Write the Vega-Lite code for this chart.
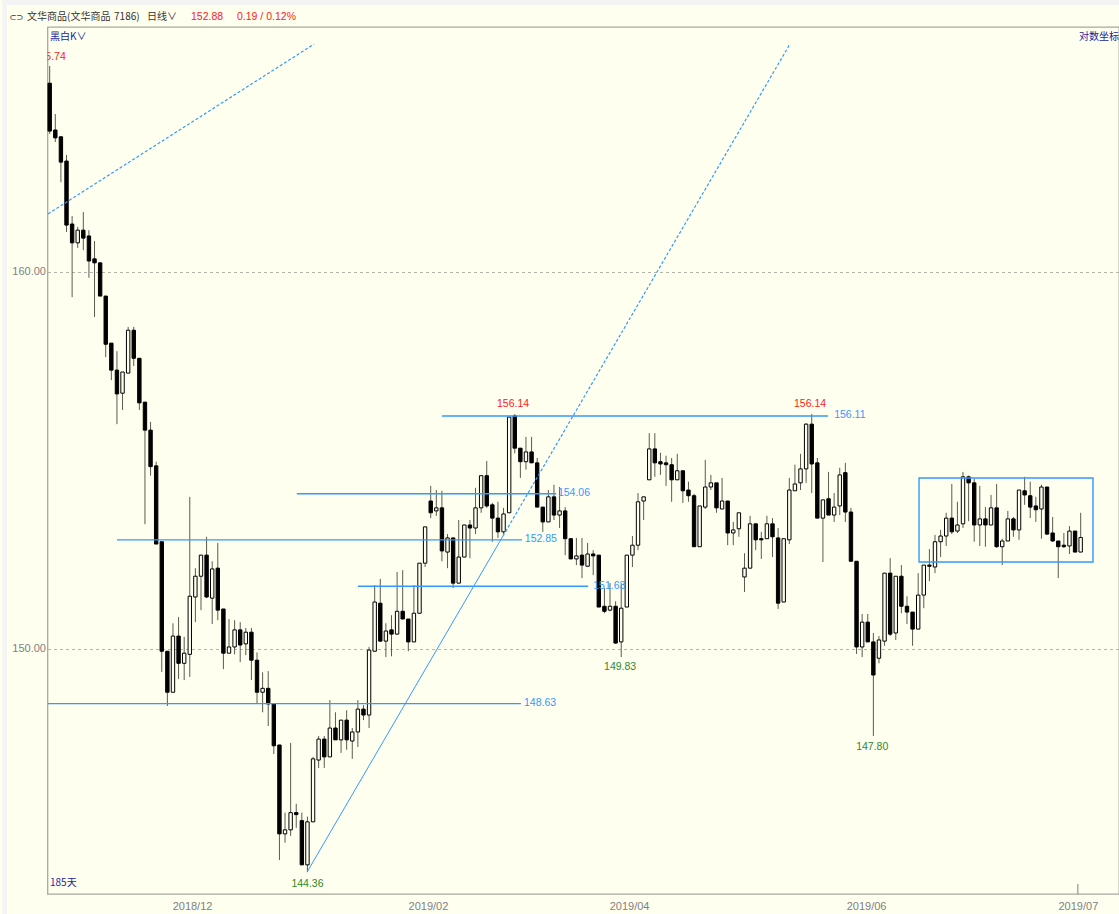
{"$schema":"https://vega.github.io/schema/vega-lite/v6.json","width":1071.5,"height":867,"padding":{"left":47.5,"top":27,"right":0,"bottom":20},"autosize":{"type":"none"},"background":"#fffff0",
"config":{"view":{"stroke":"#a8a89c","strokeWidth":1.3},"font":"Liberation Sans","scale":{"continuousPadding":0},"axis":{"ticks":false,"domain":false,"labelColor":"#808080","labelFontSize":11,"labelFont":"Liberation Sans","title":null,"labelOverlap":false,"labelFlush":false},"axisX":{"grid":false,"labelPadding":6},"axisY":{"grid":true,"gridDash":[3,3],"gridColor":"#b4b4a8","gridWidth":1,"labelPadding":2}},
"datasets":{"candles":[
{"i":0,"o":165.26,"h":165.75,"l":163.83,"c":163.91},{"i":1,"o":163.94,"h":164.39,"l":163.6,"c":163.72},{"i":2,"o":163.75,"h":163.75,"l":162.48,"c":163.04},{"i":3,"o":163.07,"h":163.24,"l":161.1,"c":161.29},{"i":4,"o":161.32,"h":161.54,"l":159.31,"c":160.8},{"i":5,"o":160.8,"h":161.24,"l":160.66,"c":161.15},{"i":6,"o":161.15,"h":161.65,"l":160.6,"c":160.93},{"i":7,"o":160.99,"h":161.15,"l":159.84,"c":160.3},{"i":8,"o":160.36,"h":160.85,"l":158.77,"c":160.25},{"i":9,"o":160.25,"h":160.25,"l":159.34,"c":159.34},
{"i":10,"o":159.34,"h":159.34,"l":157.68,"c":158.03},{"i":11,"o":158.06,"h":158.06,"l":157.06,"c":157.33},{"i":12,"o":157.33,"h":157.84,"l":155.88,"c":156.69},{"i":13,"o":156.71,"h":157.28,"l":156.26,"c":157.28},{"i":14,"o":157.25,"h":158.5,"l":157.25,"c":158.41},{"i":15,"o":158.41,"h":158.5,"l":157.44,"c":157.65},{"i":16,"o":157.65,"h":157.65,"l":156.26,"c":156.45},{"i":17,"o":156.47,"h":156.47,"l":153.23,"c":155.72},{"i":18,"o":155.72,"h":155.94,"l":154.51,"c":154.75},{"i":19,"o":154.77,"h":154.88,"l":152.71,"c":152.71},
{"i":20,"o":152.77,"h":152.77,"l":149.4,"c":149.93},{"i":21,"o":149.93,"h":149.93,"l":148.53,"c":148.88},{"i":22,"o":148.88,"h":150.65,"l":148.88,"c":150.32},{"i":23,"o":150.32,"h":150.81,"l":149.22,"c":149.62},{"i":24,"o":149.62,"h":150.3,"l":149.19,"c":149.88},{"i":25,"o":149.85,"h":153.95,"l":149.27,"c":151.35},{"i":26,"o":151.33,"h":152.08,"l":150.68,"c":151.87},{"i":27,"o":151.87,"h":152.42,"l":150.99,"c":152.42},{"i":28,"o":152.42,"h":152.9,"l":151.3,"c":151.33},{"i":29,"o":151.3,"h":152.26,"l":150.63,"c":152.06},
{"i":30,"o":152.08,"h":152.74,"l":150.73,"c":150.99},{"i":31,"o":151.02,"h":151.02,"l":149.47,"c":149.88},{"i":32,"o":149.88,"h":150.76,"l":149.88,"c":150.04},{"i":33,"o":150.04,"h":150.73,"l":149.85,"c":150.48},{"i":34,"o":150.48,"h":150.68,"l":149.65,"c":150.09},{"i":35,"o":150.12,"h":150.53,"l":149.83,"c":150.42},{"i":36,"o":150.42,"h":150.53,"l":149.19,"c":149.7},{"i":37,"o":149.7,"h":149.9,"l":148.6,"c":148.88},{"i":38,"o":148.88,"h":149.39,"l":148.37,"c":148.98},{"i":39,"o":148.98,"h":149.42,"l":148.02,"c":148.58},
{"i":40,"o":148.58,"h":148.58,"l":147.31,"c":147.52},{"i":41,"o":147.54,"h":147.54,"l":144.66,"c":145.31},{"i":42,"o":145.31,"h":145.84,"l":145.09,"c":145.41},{"i":43,"o":145.41,"h":147.59,"l":145.26,"c":145.84},{"i":44,"o":145.84,"h":146.06,"l":145.46,"c":145.79},{"i":45,"o":145.64,"h":145.84,"l":144.54,"c":144.54},{"i":46,"o":144.54,"h":145.74,"l":144.36,"c":145.61},{"i":47,"o":145.61,"h":147.24,"l":145.61,"c":147.19},{"i":48,"o":147.16,"h":147.77,"l":146.96,"c":147.69},{"i":49,"o":147.69,"h":147.77,"l":146.96,"c":147.24},
{"i":50,"o":147.24,"h":148.68,"l":147.24,"c":147.97},{"i":51,"o":147.97,"h":148.37,"l":147.67,"c":147.67},{"i":52,"o":147.67,"h":148.17,"l":147.34,"c":148.17},{"i":53,"o":148.17,"h":148.42,"l":147.42,"c":147.67},{"i":54,"o":147.64,"h":147.97,"l":147.19,"c":147.87},{"i":55,"o":147.87,"h":148.68,"l":147.49,"c":148.45},{"i":56,"o":148.45,"h":148.55,"l":148.17,"c":148.3},{"i":57,"o":148.3,"h":150.04,"l":147.97,"c":149.96},{"i":58,"o":149.93,"h":151.64,"l":149.93,"c":151.2},{"i":59,"o":151.17,"h":151.8,"l":150.17,"c":150.19},
{"i":60,"o":150.19,"h":150.65,"l":149.78,"c":150.45},{"i":61,"o":150.48,"h":150.86,"l":149.8,"c":150.37},{"i":62,"o":150.37,"h":151.98,"l":150.37,"c":150.96},{"i":63,"o":150.96,"h":152.03,"l":150.76,"c":150.76},{"i":64,"o":150.76,"h":150.76,"l":149.93,"c":150.17},{"i":65,"o":150.17,"h":151.64,"l":150.17,"c":150.91},{"i":66,"o":150.91,"h":152.21,"l":150.91,"c":152.21},{"i":67,"o":152.21,"h":153.16,"l":152.11,"c":153.16},{"i":68,"o":153.84,"h":154.24,"l":153.39,"c":153.53},{"i":69,"o":153.58,"h":154.13,"l":153.45,"c":153.66},
{"i":70,"o":153.66,"h":154.11,"l":152.26,"c":152.53},{"i":71,"o":152.5,"h":152.97,"l":152.08,"c":152.87},{"i":72,"o":152.87,"h":152.87,"l":151.56,"c":151.69},{"i":73,"o":151.69,"h":153.34,"l":151.69,"c":152.37},{"i":74,"o":152.37,"h":153.21,"l":152.37,"c":153.21},{"i":75,"o":153.21,"h":153.34,"l":152.34,"c":153.13},{"i":76,"o":153.13,"h":154.19,"l":152.97,"c":153.66},{"i":77,"o":153.66,"h":154.51,"l":153.53,"c":154.51},{"i":78,"o":154.51,"h":154.9,"l":153.66,"c":153.71},{"i":79,"o":153.74,"h":153.79,"l":152.77,"c":153.39},
{"i":80,"o":153.39,"h":153.82,"l":152.87,"c":153.03},{"i":81,"o":153.03,"h":153.66,"l":152.97,"c":153.5},{"i":82,"o":153.53,"h":156.07,"l":153.53,"c":156.07},{"i":83,"o":156.1,"h":156.15,"l":155.1,"c":155.24},{"i":84,"o":155.24,"h":155.24,"l":154.45,"c":154.88},{"i":85,"o":154.88,"h":155.54,"l":154.67,"c":155.14},{"i":86,"o":155.14,"h":155.54,"l":154.85,"c":154.85},{"i":87,"o":154.85,"h":154.98,"l":153.68,"c":153.68},{"i":88,"o":153.68,"h":153.68,"l":153.03,"c":153.29},{"i":89,"o":153.29,"h":154.13,"l":153.29,"c":153.95},
{"i":90,"o":153.95,"h":154.27,"l":153.34,"c":153.47},{"i":91,"o":153.47,"h":154.21,"l":153.13,"c":153.58},{"i":92,"o":153.58,"h":153.68,"l":152.42,"c":152.85},{"i":93,"o":152.85,"h":152.85,"l":152.32,"c":152.32},{"i":94,"o":152.32,"h":152.87,"l":152.16,"c":152.4},{"i":95,"o":152.42,"h":152.87,"l":151.82,"c":152.16},{"i":96,"o":152.13,"h":152.74,"l":152.13,"c":152.45},{"i":97,"o":152.45,"h":152.55,"l":151.9,"c":152.4},{"i":98,"o":152.42,"h":152.42,"l":151.07,"c":151.07},{"i":99,"o":151.09,"h":151.56,"l":150.91,"c":150.96},
{"i":100,"o":150.99,"h":151.69,"l":150.96,"c":151.09},{"i":101,"o":151.09,"h":151.22,"l":150.12,"c":150.14},{"i":102,"o":150.17,"h":151.69,"l":149.78,"c":151.04},{"i":103,"o":151.07,"h":152.42,"l":151.07,"c":152.42},{"i":104,"o":152.42,"h":152.92,"l":152.11,"c":152.68},{"i":105,"o":152.68,"h":154.05,"l":152.55,"c":153.82},{"i":106,"o":153.84,"h":153.95,"l":153.34,"c":153.95},{"i":107,"o":154.4,"h":155.64,"l":154.4,"c":155.22},{"i":108,"o":155.22,"h":155.64,"l":154.48,"c":154.85},{"i":109,"o":154.88,"h":155.12,"l":154.53,"c":154.82},
{"i":110,"o":154.85,"h":155.04,"l":154.24,"c":154.8},{"i":111,"o":154.8,"h":154.98,"l":153.82,"c":154.4},{"i":112,"o":154.4,"h":155.09,"l":154.4,"c":154.64},{"i":113,"o":154.64,"h":154.64,"l":153.79,"c":154.11},{"i":114,"o":154.13,"h":154.35,"l":153.82,"c":153.98},{"i":115,"o":153.98,"h":154.03,"l":152.64,"c":152.64},{"i":116,"o":152.64,"h":153.71,"l":152.64,"c":153.71},{"i":117,"o":153.68,"h":154.93,"l":153.63,"c":154.21},{"i":118,"o":154.21,"h":154.53,"l":154.13,"c":154.32},{"i":119,"o":154.32,"h":154.32,"l":153.53,"c":153.66},
{"i":120,"o":153.63,"h":154.45,"l":153.63,"c":153.84},{"i":121,"o":153.84,"h":153.84,"l":152.68,"c":153},{"i":122,"o":153,"h":153.29,"l":152.68,"c":153.08},{"i":123,"o":153.11,"h":153.53,"l":152.9,"c":153.53},{"i":124,"o":151.85,"h":152.47,"l":151.46,"c":152.08},{"i":125,"o":152.08,"h":153.45,"l":152.08,"c":153.24},{"i":126,"o":153.24,"h":153.24,"l":152.55,"c":152.82},{"i":127,"o":152.85,"h":153.03,"l":152.32,"c":152.82},{"i":128,"o":152.85,"h":153.45,"l":152.85,"c":153.24},{"i":129,"o":153.24,"h":153.39,"l":152.37,"c":152.9},
{"i":130,"o":152.87,"h":153.13,"l":151.02,"c":151.17},{"i":131,"o":151.2,"h":152.85,"l":151.2,"c":152.85},{"i":132,"o":152.82,"h":154.45,"l":152.71,"c":154.13},{"i":133,"o":154.11,"h":154.8,"l":154.11,"c":154.29},{"i":134,"o":154.32,"h":155.09,"l":154.13,"c":154.69},{"i":135,"o":154.69,"h":155.91,"l":154.32,"c":155.88},{"i":136,"o":155.88,"h":156.15,"l":154.05,"c":154.82},{"i":137,"o":154.85,"h":154.98,"l":153.39,"c":153.39},{"i":138,"o":153.39,"h":153.87,"l":152.24,"c":153.87},{"i":139,"o":153.9,"h":154.61,"l":153.47,"c":153.47},
{"i":140,"o":153.47,"h":154.05,"l":153.29,"c":153.68},{"i":141,"o":153.71,"h":154.72,"l":153.47,"c":154.53},{"i":142,"o":154.59,"h":154.85,"l":153.29,"c":153.55},{"i":143,"o":153.55,"h":153.66,"l":152.26,"c":152.26},{"i":144,"o":152.26,"h":152.26,"l":149.86,"c":150.04},{"i":145,"o":150.04,"h":150.89,"l":149.78,"c":150.68},{"i":146,"o":150.68,"h":150.89,"l":150.17,"c":150.17},{"i":147,"o":150.17,"h":150.4,"l":147.77,"c":149.32},{"i":148,"o":149.75,"h":150.32,"l":149.62,"c":150.22},{"i":149,"o":150.19,"h":151.95,"l":150.07,"c":151.95},
{"i":150,"o":151.95,"h":152.34,"l":150.32,"c":150.37},{"i":151,"o":150.4,"h":151.87,"l":150.22,"c":151.87},{"i":152,"o":151.87,"h":152.16,"l":150.91,"c":151.09},{"i":153,"o":151.09,"h":151.35,"l":150.63,"c":150.94},{"i":154,"o":150.94,"h":150.94,"l":150.07,"c":150.5},{"i":155,"o":150.5,"h":151.95,"l":150.5,"c":151.38},{"i":156,"o":151.38,"h":152.16,"l":151.04,"c":152.16},{"i":157,"o":152.16,"h":152.58,"l":151.74,"c":152.13},{"i":158,"o":152.11,"h":152.95,"l":151.95,"c":152.77},{"i":159,"o":152.77,"h":153.08,"l":152.37,"c":152.92},
{"i":160,"o":152.92,"h":153.53,"l":152.66,"c":153.39},{"i":161,"o":153.39,"h":154.29,"l":152.97,"c":153.03},{"i":162,"o":153.05,"h":153.82,"l":153,"c":153.21},{"i":163,"o":153.24,"h":154.61,"l":153.13,"c":154.48},{"i":164,"o":154.48,"h":154.51,"l":153.31,"c":154.32},{"i":165,"o":154.32,"h":154.43,"l":152.77,"c":153.21},{"i":166,"o":153.21,"h":154.24,"l":152.66,"c":153.37},{"i":167,"o":153.37,"h":153.68,"l":152.64,"c":153.21},{"i":168,"o":153.21,"h":154,"l":153.21,"c":153.66},{"i":169,"o":153.66,"h":154.29,"l":152.61,"c":152.64},
{"i":170,"o":152.64,"h":152.85,"l":152.16,"c":152.79},{"i":171,"o":152.79,"h":153.58,"l":152.79,"c":153.37},{"i":172,"o":153.37,"h":153.42,"l":152.9,"c":153.08},{"i":173,"o":153.08,"h":154.13,"l":152.82,"c":154.13},{"i":174,"o":154.11,"h":154.48,"l":153.74,"c":154},{"i":175,"o":153.98,"h":154.35,"l":153.39,"c":153.68},{"i":176,"o":153.71,"h":153.95,"l":153.29,"c":153.61},{"i":177,"o":153.63,"h":154.27,"l":152.85,"c":154.21},{"i":178,"o":154.21,"h":154.21,"l":152.95,"c":152.97},{"i":179,"o":153,"h":153.42,"l":152.77,"c":152.79},
{"i":180,"o":152.79,"h":152.79,"l":151.82,"c":152.64},{"i":181,"o":152.68,"h":153,"l":152.61,"c":152.64},{"i":182,"o":152.66,"h":153.18,"l":152.45,"c":153.05},{"i":183,"o":153.05,"h":153.05,"l":152.5,"c":152.5},{"i":184,"o":152.5,"h":153.53,"l":152.5,"c":152.88}
],
"hlines":[{"a":70,"b":138.9,"p":156.1},{"a":44.1,"b":90.4,"p":154.03},{"a":12,"b":84.3,"p":152.82},{"a":55,"b":96.1,"p":151.61},{"a":-0.3,"b":84.1,"p":148.59}],
"solid":[{"i":45.93,"p":144.36},{"i":80.9,"p":152.92}],
"dashed":[{"s":"a","i":80.9,"p":152.92},{"s":"a","i":132.1,"p":166.37},{"s":"b","i":-0.3,"p":161.6},{"s":"b","i":47.17,"p":166.37}],
"labels":[
{"i":-4.05,"p":167.15,"t":"文华商品(文华商品","k":"head","a":"cjk"},
{"i":11.48,"p":167.15,"t":"7186)","k":"head","a":"cjk"},
{"i":17.37,"p":167.15,"t":"日线∨","k":"head","a":"cjk"},
{"i":-7.2,"p":167.15,"t":"⊂⊃","k":"head","a":"icon"},
{"i":25.22,"p":167.15,"t":"152.88","k":"red","a":"left"},
{"i":33.43,"p":167.15,"t":"0.19 / 0.12%","k":"red","a":"left"},
{"i":0.05,"p":166.57,"t":"黑白K∨","k":"navy","a":"cjk"},
{"i":183.7,"p":166.57,"t":"对数坐标","k":"navy","a":"cjk"},
{"i":0.05,"p":144.1,"t":"185天","k":"navy","a":"cjk"},
{"i":82.7,"p":156.42,"t":"156.14","k":"red","a":"center"},
{"i":135.7,"p":156.42,"t":"156.14","k":"red","a":"center"},
{"i":140,"p":156.13,"t":"156.11","k":"blue","a":"left"},
{"i":90.7,"p":154.05,"t":"154.06","k":"blue","a":"left"},
{"i":84.8,"p":152.85,"t":"152.85","k":"blue","a":"left"},
{"i":97,"p":151.61,"t":"151.63","k":"blue","a":"left"},
{"i":84.65,"p":148.6,"t":"148.63","k":"blue","a":"left"},
{"i":101.8,"p":149.52,"t":"149.83","k":"green","a":"center"},
{"i":146.8,"p":147.49,"t":"147.80","k":"green","a":"center"},
{"i":46,"p":144.07,"t":"144.36","k":"green","a":"center"}
]},
"layer":[
{"data":{"values":[{"a":-8.48,"b":-7.62,"p":143,"q":168.5},{"a":-8.48,"b":191,"p":167.49,"q":168.5}]},"mark":{"type":"rect","color":"#f4f4f4","clip":false},
"encoding":{"x":{"field":"a","type":"quantitative","title":null,"scale":{"domain":[-0.393,190.84],"nice":false,"zero":false,"padding":0},"axis":{"values":[25.4,67.5,103.4,145.7,183.5],"labelExpr":"datum.value<30?'2018/12':datum.value<70?'2019/02':datum.value<110?'2019/04':datum.value<150?'2019/06':'2019/07'"}},"x2":{"field":"b"},
"y":{"field":"p","type":"quantitative","title":null,"scale":{"type":"log","domain":[143.82,166.86],"nice":false,"zero":false},"axis":{"values":[150,160],"format":".2f"}},"y2":{"field":"q"}}},
{"data":{"name":"candles"},"mark":{"type":"rule","color":"#5a5a50","strokeWidth":1},
"encoding":{"x":{"field":"i","type":"quantitative","title":null,"scale":{"domain":[-0.393,190.84],"nice":false,"zero":false,"padding":0}},"y":{"field":"h","type":"quantitative","title":null,"scale":{"type":"log","domain":[143.82,166.86],"nice":false,"zero":false}},"y2":{"field":"l"}}},
{"data":{"name":"candles"},"mark":{"type":"bar","size":3.4,"stroke":"#000","strokeWidth":1},
"encoding":{"x":{"field":"i","type":"quantitative","title":null,"scale":{"domain":[-0.393,190.84],"nice":false,"zero":false,"padding":0}},"y":{"field":"o","type":"quantitative","title":null,"scale":{"type":"log","domain":[143.82,166.86],"nice":false,"zero":false}},"y2":{"field":"c"},"fill":{"condition":{"test":"datum.c>=datum.o","value":"#fffff0"},"value":"#000000"}}},
{"data":{"values":[{"i":183.5,"p":143.82,"q":144.07}]},"mark":{"type":"rule","color":"#808078","strokeWidth":1},
"encoding":{"x":{"field":"i","type":"quantitative","title":null,"scale":{"domain":[-0.393,190.84],"nice":false,"zero":false,"padding":0}},"y":{"field":"p","type":"quantitative","title":null,"scale":{"type":"log","domain":[143.82,166.86],"nice":false,"zero":false}},"y2":{"field":"q"}}},
{"data":{"name":"hlines"},"mark":{"type":"rule","color":"#3399ff","strokeWidth":1.4},
"encoding":{"x":{"field":"a","type":"quantitative","title":null,"scale":{"domain":[-0.393,190.84],"nice":false,"zero":false,"padding":0}},"x2":{"field":"b"},"y":{"field":"p","type":"quantitative","title":null,"scale":{"type":"log","domain":[143.82,166.86],"nice":false,"zero":false}}}},
{"data":{"name":"solid"},"mark":{"type":"line","color":"#3399ff","strokeWidth":1},
"encoding":{"x":{"field":"i","type":"quantitative","title":null,"scale":{"domain":[-0.393,190.84],"nice":false,"zero":false,"padding":0}},"y":{"field":"p","type":"quantitative","title":null,"scale":{"type":"log","domain":[143.82,166.86],"nice":false,"zero":false}}}},
{"data":{"name":"dashed"},"mark":{"type":"line","color":"#3399ff","strokeWidth":1.2,"strokeDash":[3,2]},
"encoding":{"x":{"field":"i","type":"quantitative","title":null,"scale":{"domain":[-0.393,190.84],"nice":false,"zero":false,"padding":0}},"y":{"field":"p","type":"quantitative","title":null,"scale":{"type":"log","domain":[143.82,166.86],"nice":false,"zero":false}},"detail":{"field":"s"}}},
{"data":{"values":[{"a":155.15,"b":186.2,"p":154.45,"q":152.24}]},"mark":{"type":"rect","fillOpacity":0,"stroke":"#3399ff","strokeWidth":1.4},
"encoding":{"x":{"field":"a","type":"quantitative","title":null,"scale":{"domain":[-0.393,190.84],"nice":false,"zero":false,"padding":0}},"x2":{"field":"b"},"y":{"field":"p","type":"quantitative","title":null,"scale":{"type":"log","domain":[143.82,166.86],"nice":false,"zero":false}},"y2":{"field":"q"}}},
{"data":{"values":[{"i":0,"p":166,"t":"165.74"}]},"mark":{"type":"text","clip":true,"color":"#ff2020","align":"center","baseline":"middle","fontSize":10.5,"font":"Liberation Sans"},
"encoding":{"x":{"field":"i","type":"quantitative","title":null,"scale":{"domain":[-0.393,190.84],"nice":false,"zero":false,"padding":0}},"y":{"field":"p","type":"quantitative","title":null,"scale":{"type":"log","domain":[143.82,166.86],"nice":false,"zero":false}},"text":{"field":"t"}}},
{"data":{"name":"labels"},"transform":[{"filter":"datum.a=='left'"}],"mark":{"type":"text","align":"left","baseline":"middle","fontSize":10.5,"font":"Liberation Sans"},
"encoding":{"x":{"field":"i","type":"quantitative","title":null,"scale":{"domain":[-0.393,190.84],"nice":false,"zero":false,"padding":0}},"y":{"field":"p","type":"quantitative","title":null,"scale":{"type":"log","domain":[143.82,166.86],"nice":false,"zero":false}},"text":{"field":"t"},"color":{"field":"k","type":"nominal","legend":null,"scale":{"domain":["head","red","navy","blue","green"],"range":["#333333","#ff2020","#1a1a9c","#3399ff","#2a8a2a"]}}}},
{"data":{"name":"labels"},"transform":[{"filter":"datum.a=='cjk'"}],"mark":{"type":"text","align":"left","baseline":"middle","fontSize":10,"font":"Noto Sans CJK SC"},
"encoding":{"x":{"field":"i","type":"quantitative","title":null,"scale":{"domain":[-0.393,190.84],"nice":false,"zero":false,"padding":0}},"y":{"field":"p","type":"quantitative","title":null,"scale":{"type":"log","domain":[143.82,166.86],"nice":false,"zero":false}},"text":{"field":"t"},"color":{"field":"k","type":"nominal","legend":null,"scale":{"domain":["head","red","navy","blue","green"],"range":["#333333","#ff2020","#1a1a9c","#3399ff","#2a8a2a"]}}}},
{"data":{"name":"labels"},"transform":[{"filter":"datum.a=='icon'"}],"mark":{"type":"text","align":"left","baseline":"middle","fontSize":8.5,"font":"DejaVu Sans","color":"#333333"},
"encoding":{"x":{"field":"i","type":"quantitative","title":null,"scale":{"domain":[-0.393,190.84],"nice":false,"zero":false,"padding":0}},"y":{"field":"p","type":"quantitative","title":null,"scale":{"type":"log","domain":[143.82,166.86],"nice":false,"zero":false}},"text":{"field":"t"}}},
{"data":{"name":"labels"},"transform":[{"filter":"datum.a=='center'"}],"mark":{"type":"text","align":"center","baseline":"middle","fontSize":10.5,"font":"Liberation Sans"},
"encoding":{"x":{"field":"i","type":"quantitative","title":null,"scale":{"domain":[-0.393,190.84],"nice":false,"zero":false,"padding":0}},"y":{"field":"p","type":"quantitative","title":null,"scale":{"type":"log","domain":[143.82,166.86],"nice":false,"zero":false}},"text":{"field":"t"},"color":{"field":"k","type":"nominal","legend":null,"scale":{"domain":["head","red","navy","blue","green"],"range":["#333333","#ff2020","#1a1a9c","#3399ff","#2a8a2a"]}}}}
]}
